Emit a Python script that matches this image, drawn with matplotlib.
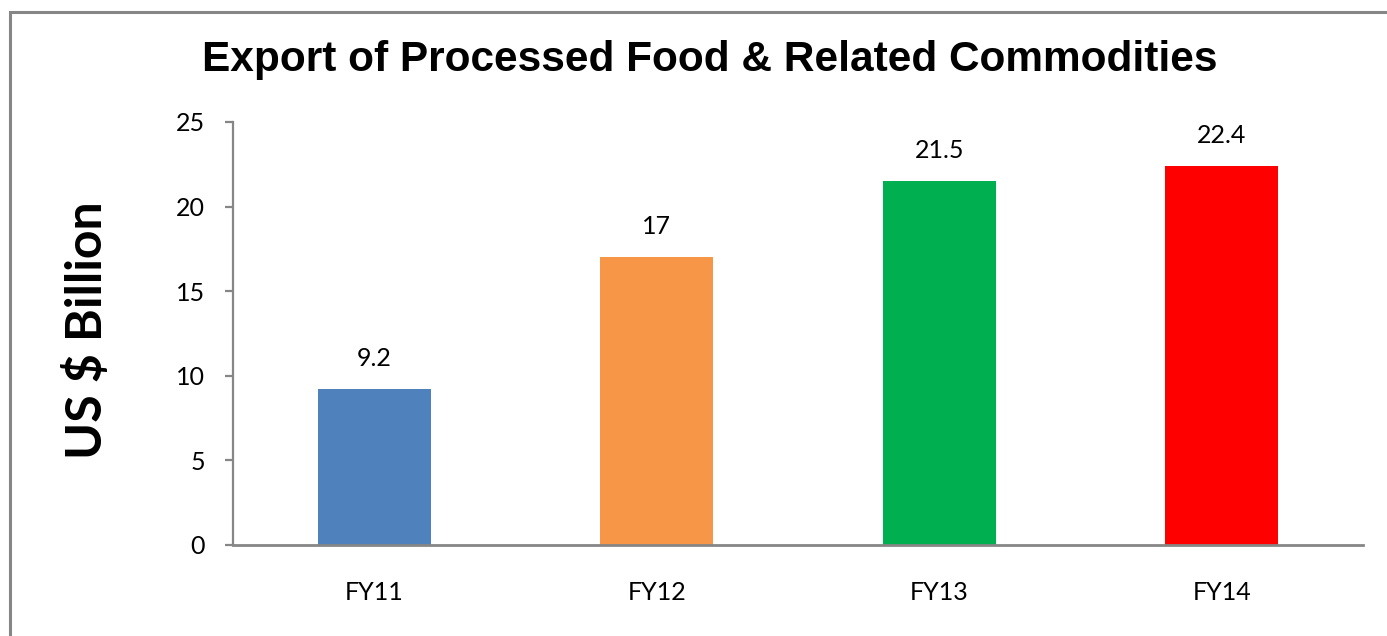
import matplotlib
matplotlib.use("Agg")
import matplotlib.pyplot as plt
from matplotlib.patches import Rectangle

categories = ["FY11", "FY12", "FY13", "FY14"]
values = [9.2, 17, 21.5, 22.4]
value_labels = ["9.2", "17", "21.5", "22.4"]
colors = ["#4F81BD", "#F79646", "#00B050", "#FF0000"]
yticks = [0, 5, 10, 15, 20, 25]

W, H = 1387, 636
fig = plt.figure(figsize=(W / 100, H / 100), dpi=100)
ax = fig.add_axes([233 / W, 1 - 545 / H, (1363 - 233) / W, (545 - 122) / H])

x = list(range(len(categories)))
bars = ax.bar(x, values, width=0.4, color=colors, zorder=2)
ax.set_xlim(-0.5, len(categories) - 0.5)
ax.set_ylim(0, 25)
ax.set_yticks(yticks)
ax.set_xticks(x)
ax.set_xticklabels(categories)

tick_font = "Lato"
for lab in ax.get_xticklabels() + ax.get_yticklabels():
    lab.set_fontfamily(tick_font)
    lab.set_fontsize(18)
    lab.set_color("black")

for b, lbl in zip(bars, value_labels):
    ax.annotate(lbl, (b.get_x() + b.get_width() / 2, b.get_height()),
                xytext=(0, 14), textcoords="offset points",
                ha="center", va="bottom", fontsize=18, fontfamily=tick_font)

spine_col = "#868686"
for s in ["top", "right"]:
    ax.spines[s].set_visible(False)
ax.spines["left"].set_color(spine_col)
ax.spines["left"].set_linewidth(1.6)
ax.spines["bottom"].set_color(spine_col)
ax.spines["bottom"].set_linewidth(2.0)
ax.tick_params(axis="y", length=6, width=1.6, color=spine_col, pad=14)
ax.tick_params(axis="x", length=0, pad=26)

fig.text(710 / W, 1 - 60 / H, "Export of Processed Food & Related Commodities",
         ha="center", va="center", fontsize=30.5, fontweight="bold",
         fontfamily="Liberation Sans")
fig.text(86 / W, 1 - 330 / H, "US $ Billion", rotation=90, ha="center", va="center",
         fontsize=36, fontweight="bold", fontfamily="Lato")

fig.patches.append(Rectangle((9.5 / W, -0.1), 1.5, 1.1 - 11.5 / H + 0.0,
                             transform=fig.transFigure, fill=False,
                             edgecolor=spine_col, linewidth=2.2))

fig.savefig("out.png", dpi=100, facecolor="white")
